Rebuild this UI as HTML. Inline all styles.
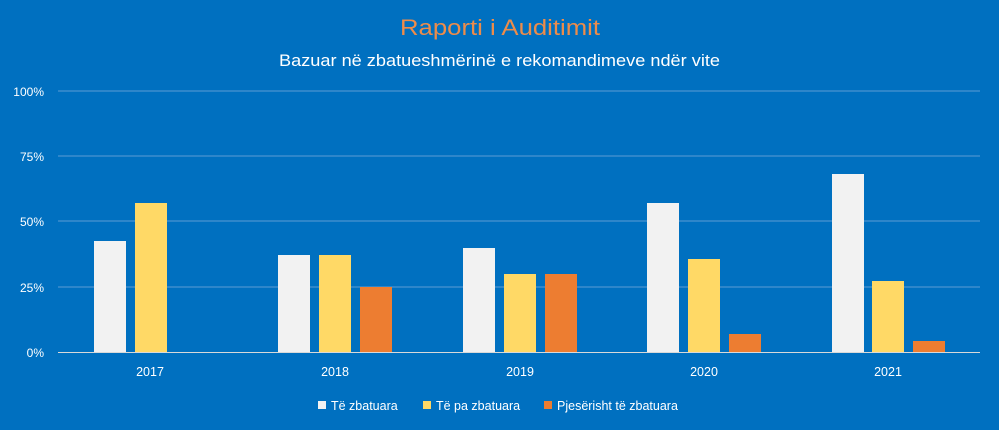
<!DOCTYPE html>
<html><head><meta charset="utf-8"><style>
html,body{margin:0;padding:0;background:#0070C0;}
svg{display:block;font-family:"Liberation Sans",sans-serif;}
</style></head><body>
<svg width="999" height="430" viewBox="0 0 999 430" xmlns="http://www.w3.org/2000/svg">
<rect width="999" height="430" fill="#0070C0"/>
<text x="400" y="35" font-size="22" fill="#ED8C4A" textLength="200" lengthAdjust="spacingAndGlyphs">Raporti i Auditimit</text>
<text x="279" y="66" font-size="17" fill="#ffffff" textLength="441" lengthAdjust="spacingAndGlyphs">Bazuar në zbatueshmërinë e rekomandimeve ndër vite</text>
<g stroke="#5B9BD5" stroke-width="1">
<line x1="58" y1="91" x2="980" y2="91"/>
<line x1="58" y1="156" x2="980" y2="156"/>
<line x1="58" y1="221" x2="980" y2="221"/>
<line x1="58" y1="287" x2="980" y2="287"/>
</g>
<g font-size="12" fill="#ffffff" text-anchor="end">
<text x="44" y="96">100%</text>
<text x="44" y="161">75%</text>
<text x="44" y="226">50%</text>
<text x="44" y="292">25%</text>
<text x="44" y="357">0%</text>
</g>
<g>
<rect x="94" y="241" width="32" height="111" fill="#F2F2F2"/>
<rect x="135" y="203" width="32" height="149" fill="#FFD966"/>
<rect x="278" y="255" width="32" height="97" fill="#F2F2F2"/>
<rect x="319" y="255" width="32" height="97" fill="#FFD966"/>
<rect x="360" y="287" width="32" height="65" fill="#ED7D31"/>
<rect x="463" y="248" width="32" height="104" fill="#F2F2F2"/>
<rect x="504" y="274" width="32" height="78" fill="#FFD966"/>
<rect x="545" y="274" width="32" height="78" fill="#ED7D31"/>
<rect x="647" y="203" width="32" height="149" fill="#F2F2F2"/>
<rect x="688" y="259" width="32" height="93" fill="#FFD966"/>
<rect x="729" y="334" width="32" height="18" fill="#ED7D31"/>
<rect x="832" y="174" width="32" height="178" fill="#F2F2F2"/>
<rect x="872" y="281" width="32" height="71" fill="#FFD966"/>
<rect x="913" y="341" width="32" height="11" fill="#ED7D31"/>
</g>
<line x1="58" y1="352.5" x2="980" y2="352.5" stroke="#D9D9D9" stroke-width="1"/>
<g font-size="12.5" fill="#ffffff" text-anchor="middle">
<text x="150" y="376">2017</text>
<text x="335" y="376">2018</text>
<text x="520" y="376">2019</text>
<text x="704" y="376">2020</text>
<text x="888" y="376">2021</text>
</g>
<g font-size="12.5" fill="#ffffff">
<rect x="318" y="401" width="8" height="8" fill="#F2F2F2"/>
<text x="331" y="410">Të zbatuara</text>
<rect x="423" y="401" width="8" height="8" fill="#FFD966"/>
<text x="436" y="410">Të pa zbatuara</text>
<rect x="544" y="401" width="8" height="8" fill="#ED7D31"/>
<text x="557" y="410">Pjesërisht të zbatuara</text>
</g>
</svg>
</body></html>
